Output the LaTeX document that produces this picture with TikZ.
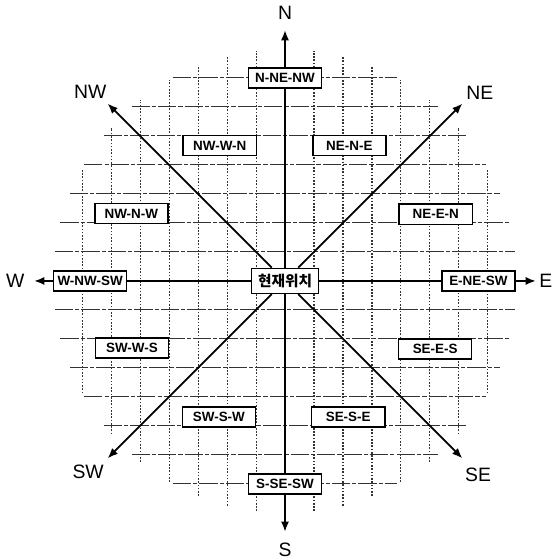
\documentclass[tikz,border=0pt]{standalone}
\usepackage{fontspec}
\setmainfont{Liberation Sans}
\newfontfamily\kofont{Noto Sans CJK KR}
\usetikzlibrary{arrows.meta,backgrounds}

\begin{document}
\begin{tikzpicture}[x=0.5cm, y=0.5cm,
  cellbox/.style={draw, fill=white, line width=0.75pt, inner sep=1pt,
    minimum width=1.26cm, minimum height=0.345cm,
    font=\bfseries\fontsize{6.6}{7}\selectfont},
  herebox/.style={cellbox, minimum width=1.155cm, minimum height=0.43cm,
    font=\kofont\bfseries\fontsize{7.2}{8}\selectfont},
  axisline/.style={line width=0.85pt, -{Latex[length=5pt,width=4pt]}},
  hgrid/.style={black!80, line width=0.5pt, dash pattern=on 9pt off 1pt on 2pt off 1pt},
  vgrid/.style={black!80, line width=0.5pt, dash pattern=on 0.8pt off 0.8pt},
  dirlabel/.style={font=\fontsize{9.5}{11}\selectfont}]
  % 한 칸 = 1 (29px), 중심 = 현재위치, 격자는 반지름 8칸 원 안
  \useasboundingbox (-9.83,-9.59) rectangle (9.24,9.69);
  \def\r{8.65}
  \coordinate (tipN) at (90:\r);
  \coordinate (tipNE) at (45:\r);
  \coordinate (tipE) at (0:\r);
  \coordinate (tipSE) at (-45:\r);
  \coordinate (tipS) at (-90:\r);
  \coordinate (tipSW) at (-135:\r);
  \coordinate (tipW) at (180:\r);
  \coordinate (tipNW) at (135:\r);

  % 상자
  \node[herebox] (here) at (0,0) {현재위치};
  \node[cellbox] (nnenw) at (0,7) {N-NE-NW};
  \node[cellbox] (nwwn) at (-2.25,4.67) {NW-W-N};
  \node[cellbox] (nene) at (2.22,4.67) {NE-N-E};
  \node[cellbox] (nwnw) at (-5.3,2.32) {NW-N-W};
  \node[cellbox] (neen) at (5.2,2.3) {NE-E-N};
  \node[cellbox] (wnwsw) at (-6.72,0) {W-NW-SW};
  \node[cellbox] (enesw) at (6.67,0) {E-NE-SW};
  \node[cellbox] (swws) at (-5.28,-2.32) {SW-W-S};
  \node[cellbox] (sees) at (5.18,-2.35) {SE-E-S};
  \node[cellbox] (swsw) at (-2.28,-4.69) {SW-S-W};
  \node[cellbox] (sese) at (2.18,-4.7) {SE-S-E};
  \node[cellbox] (ssesw) at (0,-7) {S-SE-SW};

  % 방향 이름
  \node[dirlabel] (labN) at (0,9.24) {N};
  \node[dirlabel] (labS) at (0,-9.26) {S};
  \node[dirlabel] (labW) at (-9.3,0) {W};
  \node[dirlabel] (labE) at (9.0,0) {E};
  \node[dirlabel] (labNE) at (6.72,6.5) {NE};
  \node[dirlabel] (labNW) at (-6.72,6.52) {NW};
  \node[dirlabel] (labSW) at (-6.79,-6.6) {SW};
  \node[dirlabel] (labSE) at (6.66,-6.68) {SE};

  \begin{scope}[on background layer]
    % 격자: y=k 선의 반길이 = sqrt(64-k^2)
    \foreach \k in {-7,...,-1,1,2,...,7} {
      \pgfmathsetmacro\h{sqrt(64-(\k)*(\k))}
      \draw[hgrid] (-\h,\k) -- (\h,\k);
      \draw[vgrid] (\k,-\h) -- (\k,\h);
    }
    \foreach \d in {N,NE,E,SE,S,SW,W,NW}
      \draw[axisline] (here) -- (tip\d);
  \end{scope}
\end{tikzpicture}
\end{document}
